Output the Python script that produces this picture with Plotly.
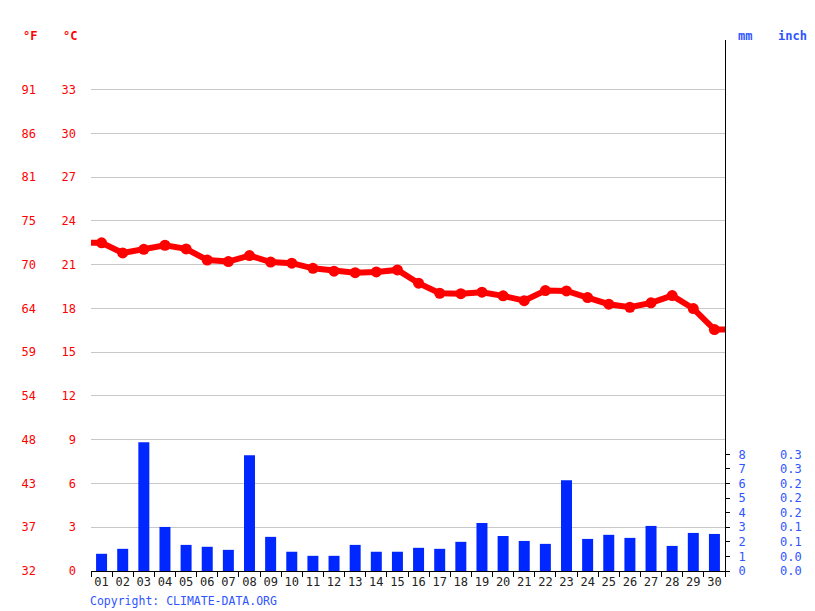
import plotly.graph_objects as go

# daily values
days = ["%02d" % d for d in range(1, 31)]
temp_c = [22.5, 21.8, 22.05, 22.33, 22.08, 21.32, 21.21, 21.62, 21.18, 21.1,
          20.75, 20.55, 20.45, 20.5, 20.64, 19.73, 19.04, 19.01, 19.11, 18.86,
          18.53, 19.22, 19.2, 18.74, 18.29, 18.08, 18.38, 18.88, 17.99, 16.55]
precip_mm = [1.18, 1.52, 8.82, 3.02, 1.79, 1.66, 1.45, 7.93, 2.34, 1.32,
             1.04, 1.04, 1.79, 1.32, 1.32, 1.59, 1.52, 2.0, 3.29, 2.4,
             2.06, 1.86, 6.22, 2.2, 2.48, 2.27, 3.09, 1.72, 2.61, 2.54]
c_ticks = list(range(0, 34, 3))
mm_ticks = list(range(0, 9))

RED = "#ff0000"
BLUE = "#2f55ff"
MONO = "DejaVu Sans Mono"
y_top = 36.4

f_labels = ["%d" % round(c * 9 / 5 + 32) for c in c_ticks]
inch_labels = ["%.1f" % (m / 25.4) for m in mm_ticks]

# numeric day positions, the line runs out to the plot edges at both ends
pos = list(range(len(days)))
line_x = [-0.5] + pos + [len(days) - 0.5]
line_y = [temp_c[0]] + temp_c + [temp_c[-1]]

fig = go.Figure()
fig.add_trace(
    go.Bar(
        x=pos,
        y=precip_mm,
        width=0.52,
        marker=dict(color="#0027ff", line=dict(width=0)),
        yaxis="y2",
        hoverinfo="skip",
    )
)
fig.add_trace(
    go.Scatter(
        x=line_x,
        y=line_y,
        mode="lines",
        line=dict(color=RED, width=6),
        hoverinfo="skip",
    )
)
fig.add_trace(
    go.Scatter(
        x=pos,
        y=temp_c,
        mode="markers",
        marker=dict(color=RED, size=11),
    )
)
# empty traces so the extra label axes get drawn
fig.add_trace(go.Scatter(x=[None], y=[None], yaxis="y3"))
fig.add_trace(go.Scatter(x=[None], y=[None], yaxis="y4"))
fig.add_trace(go.Scatter(x=[None], y=[None], xaxis="x2"))

# page body adds 8px on top/left, margins are shifted to make up for it
fig.update_layout(
    width=815,
    height=611,
    autosize=False,
    margin=dict(l=83, r=98, t=32, b=48),
    plot_bgcolor="white",
    paper_bgcolor="white",
    showlegend=False,
    font=dict(family=MONO, size=12),
    xaxis=dict(
        range=[-0.5, len(days) - 0.5],
        tickvals=pos,
        ticktext=days,
        tickangle=0,
        ticks="",
        showline=True,
        linecolor="black",
        linewidth=1,
        showgrid=False,
        zeroline=False,
        automargin=False,
        tickfont=dict(family=MONO, size=12, color="#222222"),
    ),
    # second x axis only carries the tick marks between the days
    xaxis2=dict(
        overlaying="x",
        side="bottom",
        anchor="y",
        range=[-0.5, len(days) - 0.5],
        tickvals=[p - 0.5 for p in pos] + [len(days) - 0.5],
        ticktext=[""] * (len(days) + 1),
        ticks="outside",
        ticklen=5,
        tickcolor="black",
        showgrid=False,
        zeroline=False,
        automargin=False,
    ),
    yaxis=dict(
        range=[0, y_top],
        tickvals=c_ticks,
        ticktext=[str(c) for c in c_ticks],
        tickfont=dict(family=MONO, size=12, color=RED),
        ticklabelstandoff=14,
        showgrid=True,
        gridcolor="#c8c8c8",
        gridwidth=1,
        zeroline=False,
        showline=False,
        ticks="",
        automargin=False,
    ),
    yaxis3=dict(
        overlaying="y",
        side="left",
        range=[0, y_top],
        tickvals=c_ticks,
        ticktext=f_labels,
        tickfont=dict(family=MONO, size=12, color=RED),
        ticklabelstandoff=54,
        showgrid=False,
        zeroline=False,
        showline=False,
        ticks="",
        automargin=False,
    ),
    yaxis2=dict(
        overlaying="y",
        side="right",
        range=[0, y_top],
        tickvals=mm_ticks,
        ticktext=[str(m) for m in mm_ticks],
        tickfont=dict(family=MONO, size=12, color=BLUE),
        ticks="outside",
        ticklen=4,
        tickcolor="black",
        showline=True,
        linecolor="black",
        linewidth=1,
        showgrid=False,
        zeroline=False,
        ticklabelstandoff=6,
        automargin=False,
    ),
    yaxis4=dict(
        overlaying="y",
        side="right",
        range=[0, y_top],
        tickvals=mm_ticks,
        ticktext=inch_labels,
        tickfont=dict(family=MONO, size=12, color=BLUE),
        ticks="",
        showline=False,
        showgrid=False,
        zeroline=False,
        ticklabelstandoff=54,
        automargin=False,
    ),
)

headers = [("°F", -61, RED), ("°C", -21, RED), ("mm", 654, BLUE), ("inch", 701, BLUE)]
for text, px, colour in headers:
    fig.add_annotation(
        text="<b>%s</b>" % text,
        xref="paper",
        yref="paper",
        x=px / 634,
        y=1 + 4 / 531,
        xanchor="center",
        yanchor="middle",
        showarrow=False,
        font=dict(family=MONO, size=12, color=colour),
    )

fig.add_annotation(
    text="Copyright: CLIMATE-DATA.ORG",
    xref="paper",
    yref="paper",
    x=-3 / 634,
    y=-30 / 531,
    xanchor="left",
    yanchor="middle",
    showarrow=False,
    font=dict(family=MONO, size=11.5, color=BLUE),
)

fig.write_html("out.html")
